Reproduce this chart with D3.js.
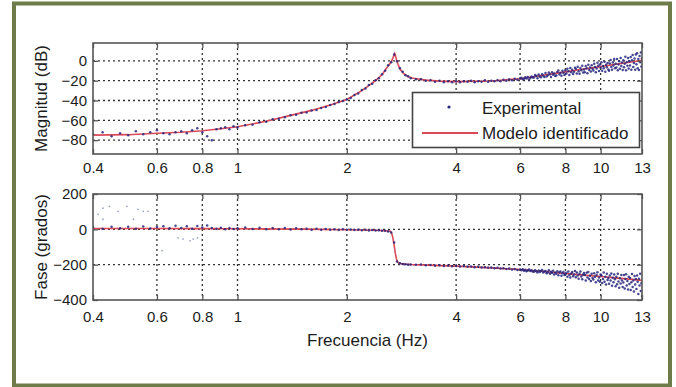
<!DOCTYPE html>
<html>
<head>
<meta charset="utf-8">
<script src="https://cdn.jsdelivr.net/npm/d3@7"></script>
<style>
  html, body { margin: 0; padding: 0; background: #fff; }
  svg { display: block; font-family: "Liberation Sans", Arial, sans-serif; }
</style>
</head>
<body>
<svg id="chart" width="676" height="387"></svg>
<script>
// Frequency axis ticks (Hz), shared by both panels
const xTicks = [0.4, 0.6, 0.8, 1, 2, 4, 6, 8, 10, 13];
const xTickLabels = ["0.4", "0.6", "0.8", "1", "2", "4", "6", "8", "10", "13"];
const magTicks = [0, -20, -40, -60, -80];
const phaseTicks = [200, 0, -200, -400];

// Identified model: magnitude (dB)
const magModelFreq = [0.4,0.5,0.6,0.7,0.8,0.9,1.0,1.2,1.4,1.6,1.8,2.0,2.2,2.4,2.5,2.6,2.65,2.68,2.7,2.71,2.72,2.74,2.77,2.81,2.87,2.95,3.05,3.3,3.6,4.0,5.0,6.0,7.0,8.0,9.0,10,11,12,13];
const magModel = [-75,-74.5,-73,-72,-70.5,-68.5,-66.5,-61,-55,-50,-44.5,-39,-30,-20,-14,-5,-1,3,6,7.5,6,1,-4,-9,-13,-16,-17.5,-19.5,-20.5,-21,-20.3,-18,-14.3,-11.1,-8.3,-5.8,-3.5,-1.4,0.5];

// Identified model: phase (degrees)
const phaseModelFreq = [0.4,0.6,0.8,1.0,1.5,2.0,2.4,2.55,2.62,2.64,2.66,2.68,2.70,2.72,2.74,2.76,2.78,2.82,2.9,3.0,3.5,4,5,6,7,8,9,10,11,12,13];
const phaseModel = [5,5,4,3,1,-2,-5,-8,-10,-12,-25,-50,-90,-135,-168,-185,-191,-194,-197,-199,-204,-208,-218,-228,-239,-250,-259,-267,-275,-282,-289];

// Experimental frequency response samples
const expFreq = [
  0.400,0.425,0.450,0.475,0.500,0.525,0.550,0.575,0.600,0.625,0.650,0.675,0.700,0.725,0.750,0.775,0.800,0.825,0.850,0.875,0.900,0.925,0.950,0.975,1.000,
  1.05,1.10,1.15,1.20,1.25,1.30,1.35,1.40,1.45,1.50,1.55,1.60,1.65,1.70,1.75,1.80,1.85,1.90,1.95,2.00,
  2.05,2.10,2.15,2.20,2.25,2.30,2.35,2.40,2.45,2.50,2.55,2.60,2.65,2.70,2.75,2.80,2.85,2.90,2.95,3.00,
  3.1,3.2,3.3,3.4,3.5,3.6,3.7,3.8,3.9,4.0,4.1,4.2,4.3,4.4,4.5,4.6,4.7,4.8,4.9,5.0,5.1,5.2,5.3,5.4,5.5,5.6,5.7,5.8,5.9,6.0,
  6.05,6.10,6.15,6.20,6.25,6.30,6.35,6.40,6.45,6.50,6.55,6.60,6.65,6.70,6.75,6.80,6.85,6.90,6.95,7.00,
  7.05,7.10,7.15,7.20,7.25,7.30,7.35,7.40,7.45,7.50,7.55,7.60,7.65,7.70,7.75,7.80,7.85,7.90,7.95,8.00,
  8.05,8.10,8.15,8.20,8.25,8.30,8.35,8.40,8.45,8.50,8.55,8.60,8.65,8.70,8.75,8.80,8.85,8.90,8.95,9.00,
  9.05,9.10,9.15,9.20,9.25,9.30,9.35,9.40,9.45,9.50,9.55,9.60,9.65,9.70,9.75,9.80,9.85,9.90,9.95,10.00,
  10.05,10.10,10.15,10.20,10.25,10.30,10.35,10.40,10.45,10.50,10.55,10.60,10.65,10.70,10.75,10.80,10.85,10.90,10.95,11.00,
  11.05,11.10,11.15,11.20,11.25,11.30,11.35,11.40,11.45,11.50,11.55,11.60,11.65,11.70,11.75,11.80,11.85,11.90,11.95,12.00,
  12.05,12.10,12.15,12.20,12.25,12.30,12.35,12.40,12.45,12.50,12.55,12.60,12.65,12.70,12.75,12.80,12.85,12.90,12.95,13.00
];
const expMag = [
  -74,-72,-76,-73,-75,-71,-74,-72,-70,-73,-74,-72,-71,-73,-70,-68,-72,-76,-80,-69,-68,-67,-69,-66,-67,
  -65,-64.5,-62,-61.5,-59,-58.5,-57,-55,-54.5,-52.5,-52,-50,-49.5,-47.5,-46.5,-44.5,-43.5,-41.5,-40.5,-39,
  -37.5,-34.5,-33,-29.5,-28,-24.5,-23,-19.5,-17.5,-13.5,-10,-4.5,-1.5,6.5,-0.5,-7.5,-11,-14.5,-15.5,-17.5,
  -18.5,-18.5,-20,-19.5,-21,-20,-21.5,-20.5,-21.5,-20.5,-21.5,-20.5,-21,-20,-21.5,-20.5,-21,-19.5,-21,-20,-20.5,-19.5,-20.5,-19,-20,-18.5,-19.5,-18,-19,-17.5,
  -17.0,-18.6,-18.1,-16.6,-17.9,-16.2,-18.8,-17.4,-15.9,-16.8,-16.9,-14.2,-15.3,-17.5,-13.9,-15.8,-16.6,-13.5,-15.0,-16.4,
  -12.3,-15.9,-14.6,-11.8,-13.5,-16.2,-11.4,-14.0,-12.9,-15.3,-14.9,-11.2,-9.8,-13.7,-12.2,-15.0,-10.0,-11.9,-14.3,-9.4,
  -12.8,-8.1,-10.4,-14.2,-7.3,-11.6,-9.0,-13.4,-10.9,-6.9,-8.0,-12.9,-5.9,-10.6,-13.0,-7.2,-9.4,-4.9,-11.8,-8.8,
  -11.5,-5.1,-7.6,-12.6,-3.9,-9.3,-6.6,-10.7,-4.4,-8.1,-9.8,-3.0,-6.2,-11.5,-7.8,-1.9,-5.0,-10.2,-3.6,-7.0,
  -1.4,-9.9,-5.2,-7.6,-0.8,-11.0,-3.9,-6.4,-2.1,-8.7,-10.1,-2.8,0.9,-6.3,-8.9,-1.7,-4.6,1.8,-7.4,-3.0,
  -6.8,1.9,-9.6,-3.7,-0.4,-7.9,2.8,-5.3,-1.8,-9.3,0.6,-6.4,-3.0,4.1,-9.5,-1.2,-5.0,2.9,-7.8,-0.3,
  -4.6,3.8,-8.9,0.7,5.9,-6.3,-2.2,2.3,-9.0,6.4,-3.4,7.6,-7.5,1.9,-9.2,4.8,-1.3,8.3,-5.8,2.7
];
const expPhase = [
  12,4,15,6,14,3,16,5,13,18,6,20,8,17,4,19,10,22,7,3,9,1,8,2,6,
  10,2,9,1,8,0,7,-1,6,0,4,-2,3,-2,2,-3,1,-4,0,-3,
  -1,-4,-2,-5,-3,-6,-4,-7,-5,-8,-8,-12,-18,-75,-182,-192,-196,-197,-201,-199,
  -201,-199,-204,-202,-206,-203,-207,-205,-209,-207,-211,-208,-212,-210,-214,-212,-216,-214,-218,-216,-220,-218,-222,-220,-225,-222,-227,-224,-230,-227,
  -231,-226,-235,-229,-237,-233,-228,-236,-231,-239,-240,-231,-237,-244,-233,-241,-236,-230,-245,-238,
  -236,-249,-243,-232,-252,-240,-247,-234,-255,-244,-252,-237,-260,-245,-239,-263,-249,-241,-258,-253,
  -246,-268,-239,-259,-273,-250,-242,-265,-256,-236,-271,-244,-261,-280,-251,-238,-267,-283,-256,-247,
  -259,-289,-246,-272,-241,-281,-263,-293,-252,-276,-284,-249,-269,-300,-258,-243,-290,-272,-297,-255,
  -262,-304,-281,-245,-296,-268,-312,-252,-287,-275,-308,-261,-290,-250,-319,-274,-299,-255,-282,-322,
  -268,-311,-252,-295,-330,-277,-306,-258,-289,-326,-301,-259,-335,-281,-254,-318,-292,-340,-268,-310,
  -275,-343,-300,-253,-326,-289,-352,-264,-312,-281,-338,-262,-296,-366,-280,-318,-251,-349,-305,-378
];
// Additional scattered low-frequency phase readings
const strayFreq = [0.413,0.426,0.426,0.444,0.469,0.496,0.517,0.532,0.550,0.567,0.620,0.686,0.708,0.740,0.755,0.776];
const strayPhase = [85,120,57,130,102,130,57,113,102,102,-121,-48,-55,-65,-55,-48];

const svg = d3.select("#chart");
const W = 676, H = 387;
svg.append("rect").attr("width", W).attr("height", H).attr("fill", "#fff");

const x = d3.scaleLog().domain([0.4, 13]).range([93, 642]);
const yMag = d3.scaleLinear().domain([-94, 18]).range([154, 43]);
const yPh = d3.scaleLinear().domain([-400, 200]).range([300, 194]);

const axisColor = "#555";
const textColor = "#1c1c1c";
const modelColor = "#dc4a58";
const dotColor = "#26267e";
const font = "Liberation Sans, Arial, sans-serif";

function panel(id, y, yTicks, yGrid, modelF, modelV, expF, expV, labelPad, strayF, strayV) {
  const [y0, y1] = y.range();
  const g = svg.append("g");
  g.append("clipPath").attr("id", id)
    .append("rect").attr("x", 93).attr("y", y1).attr("width", 549).attr("height", y0 - y1);

  // dotted grid
  const grid = g.append("g").attr("stroke", "#333").attr("stroke-width", 1.3)
    .attr("stroke-dasharray", "2,3");
  grid.selectAll("line.gx").data(xTicks.slice(1, -1)).join("line")
    .attr("x1", d => x(d)).attr("x2", d => x(d)).attr("y1", y1).attr("y2", y0);
  grid.selectAll("line.gy").data(yGrid).join("line")
    .attr("x1", 93).attr("x2", 642).attr("y1", d => y(d)).attr("y2", d => y(d));

  const plot = g.append("g").attr("clip-path", `url(#${id})`);
  if (strayF) {
    plot.append("g").selectAll("circle").data(strayF.map((f, i) => [f, strayV[i]])).join("circle")
      .attr("cx", d => x(d[0])).attr("cy", d => y(d[1])).attr("r", 0.9)
      .attr("fill", "#5a6aa0").attr("opacity", 0.6);
  }
  const line = d3.line().x(d => x(d[0])).y(d => y(d[1]));
  plot.append("path").datum(modelF.map((f, i) => [f, modelV[i]]))
    .attr("d", line).attr("fill", "none").attr("stroke", modelColor).attr("stroke-width", 1.6);
  plot.append("g").selectAll("circle").data(expF.map((f, i) => [f, expV[i]])).join("circle")
    .attr("cx", d => x(d[0])).attr("cy", d => y(d[1])).attr("r", 1.25)
    .attr("fill", dotColor).attr("opacity", 0.85);

  // inward tick marks on all four sides
  const tk = (ax) => ax.tickSizeInner(-5).tickSizeOuter(0).tickFormat("");
  const styleTicks = sel => { sel.select(".domain").remove(); sel.selectAll("line").attr("stroke", axisColor).attr("stroke-width", 1.3); };
  g.append("g").attr("transform", `translate(0,${y0})`).call(tk(d3.axisBottom(x).tickValues(xTicks))).call(styleTicks);
  g.append("g").attr("transform", `translate(0,${y1})`).call(tk(d3.axisTop(x).tickValues(xTicks))).call(styleTicks);
  g.append("g").attr("transform", "translate(93,0)").call(tk(d3.axisLeft(y).tickValues(yTicks))).call(styleTicks);
  g.append("g").attr("transform", "translate(642,0)").call(tk(d3.axisRight(y).tickValues(yTicks))).call(styleTicks);

  // tick labels
  const xl = g.append("g").attr("transform", `translate(0,${y0})`)
    .call(d3.axisBottom(x).tickValues(xTicks).tickSize(0).tickPadding(labelPad)
      .tickFormat((d, i) => xTickLabels[i]));
  xl.select(".domain").remove();
  xl.selectAll("text").attr("font-size", 15).attr("fill", textColor).attr("font-family", font);
  const yl = g.append("g").attr("transform", "translate(93,0)")
    .call(d3.axisLeft(y).tickValues(yTicks).tickSize(0).tickPadding(6));
  yl.select(".domain").remove();
  yl.selectAll("text").attr("font-size", 15).attr("fill", textColor).attr("font-family", font);

  // axes box
  g.append("rect").attr("x", 93).attr("y", y1).attr("width", 549).attr("height", y0 - y1)
    .attr("fill", "none").attr("stroke", axisColor).attr("stroke-width", 1.6);
  return g;
}

panel("clipMag", yMag, magTicks, [0, -20, -40, -60, -80], magModelFreq, magModel, expFreq, expMag, 8.5);
panel("clipPh", yPh, phaseTicks, [0, -200], phaseModelFreq, phaseModel, expFreq, expPhase, 11.5, strayFreq, strayPhase);

// axis titles
svg.append("text").attr("transform", "translate(47,98.5) rotate(-90)")
  .attr("text-anchor", "middle").attr("font-size", 17).attr("fill", textColor).text("Magnitud (dB)");
svg.append("text").attr("transform", "translate(47,247) rotate(-90)")
  .attr("text-anchor", "middle").attr("font-size", 17).attr("fill", textColor).text("Fase (grados)");
svg.append("text").attr("x", 367.5).attr("y", 346)
  .attr("text-anchor", "middle").attr("font-size", 17).attr("fill", textColor).text("Frecuencia (Hz)");

// legend
const lg = svg.append("g");
lg.append("rect").attr("x", 412.5).attr("y", 92.5).attr("width", 227).attr("height", 55)
  .attr("fill", "#fff").attr("stroke", "#444").attr("stroke-width", 1.6);
lg.append("circle").attr("cx", 449).attr("cy", 107).attr("r", 1.6).attr("fill", dotColor);
lg.append("line").attr("x1", 422).attr("x2", 478).attr("y1", 133).attr("y2", 133)
  .attr("stroke", modelColor).attr("stroke-width", 1.8);
lg.append("text").attr("x", 482).attr("y", 114).attr("font-size", 17).attr("fill", textColor).text("Experimental");
lg.append("text").attr("x", 482).attr("y", 139).attr("font-size", 17).attr("fill", textColor).text("Modelo identificado");

// outer frame
svg.append("rect").attr("x", 14).attr("y", 3.5).attr("width", 656).attr("height", 382)
  .attr("fill", "none").attr("stroke", "#6d7c48").attr("stroke-width", 4);
</script>
</body>
</html>
